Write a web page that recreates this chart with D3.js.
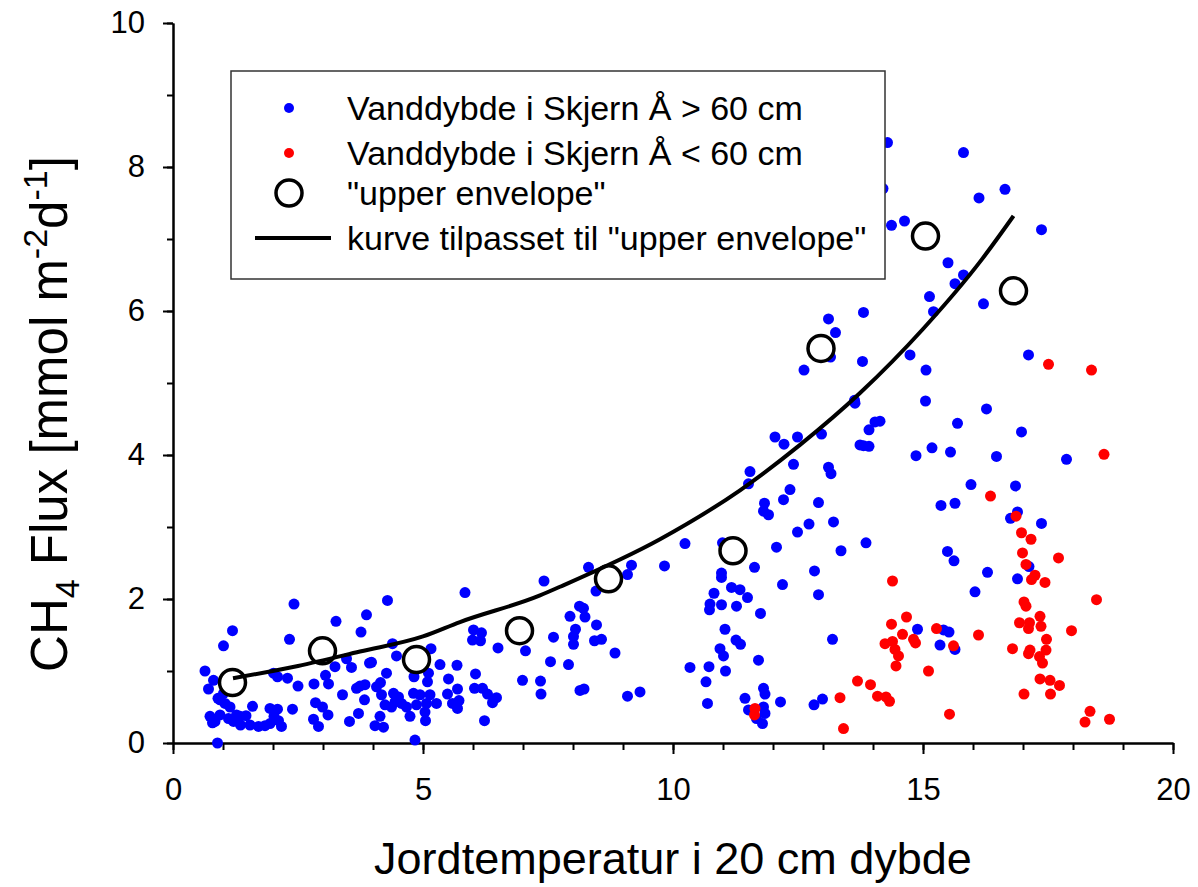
<!DOCTYPE html>
<html>
<head>
<meta charset="utf-8">
<script src="https://cdn.jsdelivr.net/npm/d3@7"></script>
<style>
  body { margin: 0; background: #fff; }
  svg { font-family: "Liberation Sans", Arial, sans-serif; }
  .axis path, .axis line { stroke: #000; stroke-width: 2; }
  .axis text { font-size: 31px; fill: #000; }
</style>
</head>
<body>
<svg id="chart" width="1198" height="887"></svg>
<script>
// blue: water depth > 60 cm
var blueTemp = [2.42,1.19,1.01,2.33,3.26,3.76,3.87,0.64,0.81,0.71,2.01,2.09,2.29,2.50,2.82,3.11,3.05,3.24,3.57,3.47,
  3.93,3.67,3.74,3.84,3.39,3.83,3.71,3.53,2.85,2.99,3.10,2.81,2.91,2.39,1.94,2.09,1.59,0.94,1.04,1.14,
  0.74,0.79,0.94,1.11,1.21,1.34,1.35,1.46,1.54,1.71,1.84,1.94,2.02,2.11,2.17,1.01,0.89,0.84,1.27,0.90,
  7.42,5.84,4.29,4.39,4.47,5.16,3.97,4.27,5.34,5.68,6.01,6.17,5.99,6.15,6.50,7.05,7.61,7.55,6.99,7.35,
  7.36,6.05,6.03,6.19,6.29,6.47,6.39,6.23,5.51,5.69,5.49,5.59,5.72,5.69,4.82,5.11,5.09,4.07,4.15,4.17,
  4.24,4.41,4.51,4.57,4.44,4.37,4.67,4.74,4.81,4.94,4.87,5.07,5.14,5.27,5.04,5.05,4.14,4.04,4.21,4.84,
  10.24,9.83,10.99,9.17,9.09,8.31,8.46,8.13,8.21,7.94,8.24,8.47,8.05,8.01,8.01,8.43,8.57,8.84,7.91,8.14,
  8.22,9.09,9.34,10.97,10.97,10.82,10.74,10.73,10.97,11.17,11.27,11.04,11.26,10.94,11.01,10.34,10.72,10.66,11.05,10.69,
  13.63,13.74,12.04,12.22,12.49,12.97,12.41,13.11,13.16,11.54,11.51,12.34,12.21,11.83,11.81,11.91,12.91,13.21,12.72,12.49,
  12.07,13.36,11.63,12.83,12.19,12.91,11.34,11.49,11.75,11.35,11.71,13.19,11.44,11.81,11.84,11.51,11.81,11.84,11.67,11.79,
  12.15,12.82,12.99,
  15.50,15.81,15.64,15.13,15.21,16.21,13.11,13.25,13.15,13.81,13.79,12.62,14.74,15.06,13.64,15.05,16.27,14.04,14.14,13.92,
  15.69,13.81,13.92,15.18,14.86,15.55,16.47,15.96,15.36,15.64,13.86,15.49,15.62,16.29,16.04,14.89,15.41,15.52,15.34,15.64,
  15.81,16.12,16.64,17.37,17.11,16.97,17.87,16.85,16.89,16.75,17.37,17.12,16.89,14.29,14.37,14.63,14.20];
var blueFlux = [1.93,1.56,1.35,1.44,1.69,1.54,1.78,1.00,0.87,0.75,0.97,0.92,0.90,0.79,0.82,0.82,0.94,1.06,1.05,1.17,
  1.11,0.76,0.79,0.81,0.67,0.60,0.41,0.30,0.56,0.50,0.39,0.33,0.23,0.47,0.48,0.47,0.51,0.60,0.55,0.50,
  0.37,0.28,0.39,0.34,0.30,0.37,0.25,0.38,0.25,0.23,0.24,0.27,0.37,0.31,0.23,0.69,0.00,0.30,0.39,0.62,
  2.25,2.09,1.98,1.38,1.21,1.31,1.12,0.97,1.09,1.08,1.57,1.53,1.43,1.42,1.32,1.28,1.47,1.13,0.87,0.86,
  0.68,0.96,0.76,0.76,0.68,0.63,0.56,0.31,0.89,0.75,0.68,0.55,0.59,0.48,0.92,0.97,0.85,0.78,0.84,0.67,
  0.53,0.69,0.64,0.55,0.57,0.50,0.50,0.37,0.69,0.67,0.53,0.55,0.67,0.55,0.43,0.31,0.37,0.24,0.22,0.04,
  2.77,2.46,2.78,2.47,2.34,2.44,2.11,1.90,1.87,1.76,1.75,1.64,1.58,1.48,1.37,1.42,1.44,1.25,1.09,0.73,
  0.75,0.65,0.71,2.36,2.30,2.08,1.93,1.85,1.92,2.16,1.90,1.58,1.43,1.31,1.21,1.05,1.06,0.85,1.00,0.55,
  4.76,4.14,4.25,4.15,4.25,4.29,3.87,3.83,3.74,3.77,3.60,3.52,3.38,3.33,3.22,3.17,3.34,3.07,3.04,2.93,
  2.72,2.67,2.44,2.39,2.20,2.06,2.13,2.02,1.80,1.37,1.15,1.44,0.62,0.76,0.68,0.46,0.50,0.41,0.34,0.27,
  0.57,0.53,0.61,
  6.67,6.50,6.38,6.20,5.99,6.10,5.89,5.70,5.36,5.98,5.30,5.18,5.39,5.18,4.72,4.75,4.64,4.46,4.47,4.35,
  4.44,4.13,4.12,4.10,3.99,4.04,3.98,3.59,3.30,3.33,2.78,2.66,2.53,2.37,2.10,1.58,1.57,1.54,1.36,1.30,
  8.20,7.57,7.69,7.13,5.39,4.32,3.94,3.57,3.21,3.12,3.05,2.45,2.28,8.34,7.19,7.25,7.70];

// red: water depth < 60 cm
var redTemp = [11.64,11.63,13.34,13.41,13.69,16.35,14.39,14.67,14.37,14.59,14.81,14.85,14.24,14.39,14.44,14.51,14.46,15.11,15.27,15.61,
  16.11,13.95,14.09,14.26,14.33,15.53,17.51,18.37,18.62,16.86,16.97,17.16,16.99,17.06,17.24,17.17,17.44,17.71,18.47,17.02,
  17.06,17.34,16.93,17.13,17.11,17.36,17.47,17.97,16.79,17.14,17.11,17.46,17.33,17.39,17.34,17.54,17.73,17.55,17.02,18.34,
  18.24,18.73];
var redFlux = [0.48,0.39,0.63,0.20,0.86,3.43,2.25,1.75,1.65,1.51,1.44,1.39,1.38,1.41,1.30,1.21,1.07,1.00,1.59,1.35,
  1.50,0.81,0.65,0.64,0.58,0.40,5.26,5.18,4.01,3.15,2.92,2.83,2.64,2.48,2.33,2.27,2.23,2.57,1.99,1.96,
  1.90,1.76,1.67,1.67,1.59,1.62,1.44,1.56,1.31,1.29,1.24,1.29,1.20,1.11,0.89,0.87,0.80,0.68,0.68,0.44,
  0.29,0.33];

// "upper envelope"
var envTemp = [1.19, 2.99, 4.87, 6.93, 8.71, 11.2, 12.96, 15.05, 16.81];
var envFlux = [0.84, 1.28, 1.16, 1.56, 2.28, 2.67, 5.48, 7.04, 6.28];

// fitted curve
var curveTemp = [1.2, 2.5, 3.74, 5.0, 5.74, 7.34, 7.74, 9.74, 11.34, 12.54, 13.74, 15.0, 16.17, 16.81];
var curveFlux = [0.90, 1.07, 1.27, 1.48, 1.68, 2.05, 2.17, 2.83, 3.51, 4.14, 4.86, 5.75, 6.71, 7.32];

var xMajor = [0, 5, 10, 15, 20];
var yMajor = [0, 2, 4, 6, 8, 10];

var legendLabels = ["Vanddybde i Skjern Å > 60 cm", "Vanddybde i Skjern Å < 60 cm",
  "\"upper envelope\"", "kurve tilpasset til \"upper envelope\""];

var margin = { top: 23, right: 25, bottom: 144, left: 173 },
    width = 1198 - margin.left - margin.right,
    height = 887 - margin.top - margin.bottom;

var svg = d3.select("#chart");
var g = svg.append("g").attr("transform", "translate(" + margin.left + "," + margin.top + ")");

var x = d3.scaleLinear().domain([0, 20]).range([0, width]);
var y = d3.scaleLinear().domain([0, 10]).range([height, 0]);

// minor ticks first, then major ticks with labels
g.append("g").attr("class", "axis").attr("transform", "translate(0," + height + ")")
  .call(d3.axisBottom(x).tickValues(d3.range(0, 21)).tickSize(7).tickSizeOuter(0).tickFormat(""));
g.append("g").attr("class", "axis").attr("transform", "translate(0," + height + ")")
  .call(d3.axisBottom(x).tickValues(xMajor).tickSize(11).tickSizeOuter(0).tickPadding(24).tickFormat(d3.format("d")));
g.append("g").attr("class", "axis")
  .call(d3.axisLeft(y).tickValues(d3.range(0, 11)).tickSize(6).tickSizeOuter(0).tickFormat(""));
g.append("g").attr("class", "axis")
  .call(d3.axisLeft(y).tickValues(yMajor).tickSize(10).tickSizeOuter(0).tickPadding(18).tickFormat(d3.format("d")));

var blue = blueTemp.map(function (t, i) { return [t, blueFlux[i]]; });
var red = redTemp.map(function (t, i) { return [t, redFlux[i]]; });
var env = envTemp.map(function (t, i) { return [t, envFlux[i]]; });
var curve = curveTemp.map(function (t, i) { return [t, curveFlux[i]]; });

g.selectAll(".blue").data(blue).enter().append("circle")
  .attr("class", "blue")
  .attr("cx", function (d) { return x(d[0]); })
  .attr("cy", function (d) { return y(d[1]); })
  .attr("r", 5.5).attr("fill", "#0000ff");

g.selectAll(".red").data(red).enter().append("circle")
  .attr("class", "red")
  .attr("cx", function (d) { return x(d[0]); })
  .attr("cy", function (d) { return y(d[1]); })
  .attr("r", 5.5).attr("fill", "#ff0000");

g.selectAll(".env").data(env).enter().append("circle")
  .attr("class", "env")
  .attr("cx", function (d) { return x(d[0]); })
  .attr("cy", function (d) { return y(d[1]); })
  .attr("r", 13).attr("fill", "#fff").attr("stroke", "#000").attr("stroke-width", 3.5);

var line = d3.line().x(function (d) { return x(d[0]); }).y(function (d) { return y(d[1]); })
  .curve(d3.curveMonotoneX);
g.append("path").datum(curve).attr("d", line)
  .attr("fill", "none").attr("stroke", "#000").attr("stroke-width", 4);

// legend
var lg = svg.append("g").attr("transform", "translate(231,71)");
lg.append("rect").attr("width", 654).attr("height", 208)
  .attr("fill", "#fff").attr("stroke", "#333").attr("stroke-width", 1.5);
var rowY = [37, 82, 122, 167];
lg.append("circle").attr("cx", 58).attr("cy", rowY[0]).attr("r", 5).attr("fill", "#0000ff");
lg.append("circle").attr("cx", 58).attr("cy", rowY[1]).attr("r", 5).attr("fill", "#ff0000");
lg.append("circle").attr("cx", 58).attr("cy", rowY[2]).attr("r", 13)
  .attr("fill", "#fff").attr("stroke", "#000").attr("stroke-width", 3.5);
lg.append("line").attr("x1", 24).attr("x2", 100).attr("y1", rowY[3]).attr("y2", rowY[3])
  .attr("stroke", "#000").attr("stroke-width", 4);
lg.selectAll(".ltext").data(legendLabels).enter().append("text")
  .attr("x", 116).attr("y", function (d, i) { return rowY[i] + 12; })
  .style("font-size", "34px").text(function (d) { return d; });

// axis titles
svg.append("text").attr("x", margin.left + width / 2).attr("y", 874)
  .attr("text-anchor", "middle").style("font-size", "45px")
  .text("Jordtemperatur i 20 cm dybde");

var yt = svg.append("text").attr("transform", "translate(67,414) rotate(-90)")
  .attr("text-anchor", "middle").style("font-size", "51px");
yt.append("tspan").text("CH");
yt.append("tspan").attr("dy", 12).style("font-size", "34px").text("4");
yt.append("tspan").attr("dy", -12).text(" Flux [mmol m");
yt.append("tspan").attr("dy", -20).style("font-size", "34px").text("-2");
yt.append("tspan").attr("dy", 20).text("d");
yt.append("tspan").attr("dy", -20).style("font-size", "34px").text("-1");
yt.append("tspan").attr("dy", 20).text("]");
</script>
</body>
</html>
